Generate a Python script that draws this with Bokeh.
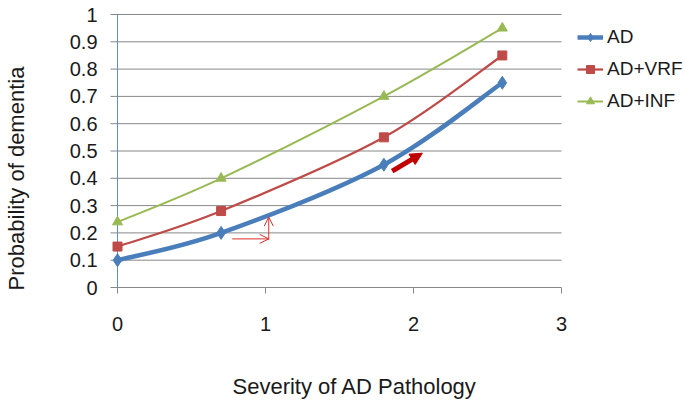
import math
from bokeh.plotting import figure
from bokeh.models import Range1d, Legend, LegendItem, Arrow, OpenHead, NormalHead, ColumnDataSource
from bokeh.core.properties import value
from bokeh.embed import file_html
from bokeh.resources import INLINE

# ---- data ----
severity = [0, 0.7, 1.8, 2.6]
ad = [0.10, 0.20, 0.45, 0.75]
ad_vrf = [0.15, 0.28, 0.55, 0.85]
ad_inf = [0.24, 0.40, 0.70, 0.95]
series_names = ["AD", "AD+VRF", "AD+INF"]
x_ticks = [0, 1, 2, 3]
x_tick_labels = ["0", "1", "2", "3"]
y_ticks = [0, 0.1, 0.2, 0.3, 0.4, 0.5, 0.6, 0.7, 0.8, 0.9, 1.0]
y_tick_labels = ["0", "0.1", "0.2", "0.3", "0.4", "0.5", "0.6", "0.7", "0.8", "0.9", "1"]
x_title = "Severity of AD Pathology"
y_title = "Probability of dementia"

# annotation arrows (data coords)
thin_h = dict(x_start=0.775, y_start=0.178, x_end=1.022, y_end=0.178)
thin_v = dict(x_start=1.022, y_start=0.175, x_end=1.022, y_end=0.258)
thick = dict(x_start=1.856, y_start=0.426, x_end=2.06, y_end=0.492)

# ---- layout (pixels) ----
W, H = 685, 403
ORIGIN_X, ORIGIN_Y = 117, 287      # pixel position of data (0, 0)
PX_X, PX_Y = 148, 273              # pixels per x unit / y unit
GRID_EXT = 7                        # gridlines reach left of the value axis

colors = ["#4A7EBB", "#BE4B48", "#98B954"]
widths = [4.5, 2.25, 2.0]
markers = ["diamond", "square", "triangle"]
msizes = [13, 9, 10]

FONT = "Liberation Sans"
TXT = "#1a1a1a"
GRID = "#888888"

x_range = Range1d(-ORIGIN_X / PX_X, (W - ORIGIN_X) / PX_X)
y_range = Range1d(-(H - ORIGIN_Y) / PX_Y, ORIGIN_Y / PX_Y)

p = figure(width=W, height=H, output_backend="svg", toolbar_location=None, title=None,
           x_range=x_range, y_range=y_range, x_axis_location=None, y_axis_location=None,
           min_border=0, min_border_left=0, min_border_right=0, min_border_top=0, min_border_bottom=0)
p.outline_line_color = None
p.background_fill_color = "white"
p.border_fill_color = "white"
p.xgrid.visible = False
p.ygrid.visible = False

x_left = -GRID_EXT / PX_X
x_right = x_ticks[-1]

# horizontal gridlines (incl. the category axis line at 0)
p.segment(x0=[x_left] * len(y_ticks), x1=[x_right] * len(y_ticks), y0=y_ticks, y1=y_ticks,
          line_color=GRID, line_width=1)
# value axis line
p.segment(x0=[0], x1=[0], y0=[y_ticks[0]], y1=[y_ticks[-1]], line_color="#5B8FD0", line_width=1)
# x tick marks
p.ray(x=x_ticks, y=[0] * len(x_ticks), length=6, length_units="screen", angle=-math.pi / 2,
      line_color=GRID, line_width=1)

# tick labels
p.text(x=x_ticks, y=[0] * len(x_ticks), text=x_tick_labels, y_offset=36,
       text_align="center", text_baseline="middle", text_font=value(FONT),
       text_font_size="20px", text_color=TXT)
p.text(x=[0] * len(y_ticks), y=y_ticks, text=y_tick_labels, x_offset=-20,
       text_align="right", text_baseline="middle", text_font=value(FONT),
       text_font_size="20px", text_color=TXT)

# axis titles
p.text(x=[0], y=[0], text=[x_title], x_offset=115, y_offset=99,
       text_align="left", text_baseline="middle", text_font=value(FONT),
       text_font_size="22px", text_color=TXT)
p.text(x=[0], y=[0], text=[y_title], x_offset=-101, y_offset=-109, angle=math.pi / 2,
       text_align="center", text_baseline="middle", text_font=value(FONT),
       text_font_size="22px", text_color=TXT)


def smooth_segments(xs, ys):
    n = len(xs)
    d = dict(x0=[], y0=[], x1=[], y1=[], cx0=[], cy0=[], cx1=[], cy1=[])
    for i in range(n - 1):
        a = max(i - 1, 0)
        b = min(i + 2, n - 1)
        d["x0"].append(xs[i]); d["y0"].append(ys[i])
        d["x1"].append(xs[i + 1]); d["y1"].append(ys[i + 1])
        d["cx0"].append(xs[i] + (xs[i + 1] - xs[a]) / 6)
        d["cy0"].append(ys[i] + (ys[i + 1] - ys[a]) / 6)
        d["cx1"].append(xs[i + 1] - (xs[b] - xs[i]) / 6)
        d["cy1"].append(ys[i + 1] - (ys[b] - ys[i]) / 6)
    return d


items = []
for name, ys, c, w, m, s in zip(series_names, [ad, ad_vrf, ad_inf], colors, widths, markers, msizes):
    src = ColumnDataSource(smooth_segments(severity, ys))
    br = p.bezier(x0="x0", y0="y0", x1="x1", y1="y1", cx0="cx0", cy0="cy0", cx1="cx1", cy1="cy1",
                  source=src, line_color=c, line_width=w)
    sr = p.scatter(severity, ys, marker=m, size=s, fill_color=c, line_color=c)
    items.append(LegendItem(label=name, renderers=[br, sr]))

# arrows
p.add_layout(Arrow(end=OpenHead(size=9, line_color="#D9302C", line_width=1),
                   line_color="#D9302C", line_width=1, **thin_h))
p.add_layout(Arrow(end=OpenHead(size=9, line_color="#D9302C", line_width=1),
                   line_color="#D9302C", line_width=1, **thin_v))
p.add_layout(Arrow(end=NormalHead(size=12, fill_color="#C00000", line_color="#C00000"),
                   line_color="#C00000", line_width=5, **thick))

legend = Legend(items=items, location=(577, 291), padding=0, margin=0, spacing=10,
                glyph_width=26, glyph_height=20, label_standoff=4, label_height=20,
                label_text_font=FONT, label_text_font_size="19px", label_text_color=TXT,
                border_line_color=None, background_fill_alpha=0)
p.add_layout(legend, "center")

open("out.html", "w").write(file_html(p, INLINE))
